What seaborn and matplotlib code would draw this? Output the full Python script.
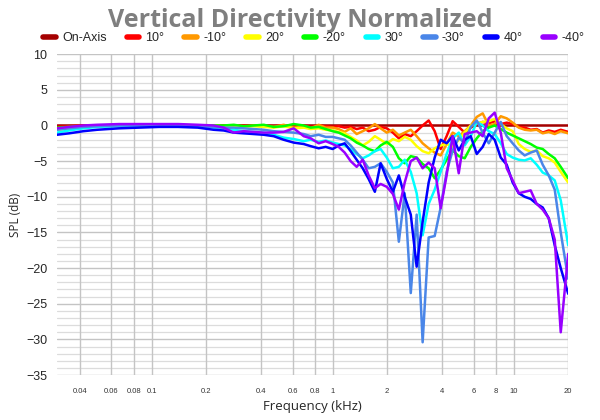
import numpy as np
import pandas as pd
import matplotlib
matplotlib.use("Agg")
import matplotlib.pyplot as plt
from matplotlib.lines import Line2D
from matplotlib.ticker import NullLocator, FixedLocator
import seaborn as sns

# frequency points (kHz)
freq = [0.03, 0.035, 0.042, 0.05, 0.066, 0.085, 0.11, 0.14, 0.18,
        0.22, 0.25, 0.284, 0.322, 0.366, 0.416, 0.472, 0.536, 0.609, 0.692, 0.756, 0.837, 0.915,
        1.0, 1.08, 1.165, 1.257, 1.357, 1.465, 1.58, 1.71, 1.84, 1.99, 2.15, 2.32, 2.5, 2.7,
        2.91, 3.14, 3.39, 3.66, 3.95, 4.26, 4.6, 4.97, 5.36, 5.79, 6.25, 6.74, 7.28, 7.85,
        8.48, 9.15, 9.87, 10.66, 11.5, 12.41, 13.4, 14.46, 15.61, 16.85, 18.19, 20.0]

angles = ["On-Axis", "10°", "-10°", "20°", "-20°", "30°", "-30°", "40°", "-40°"]
colors = ["#A50000", "#FF0000", "#FF9900", "#FFFF00", "#00FF00", "#00FFFF", "#4A86E8", "#0000FF", "#9900FF"]

on_axis = [0.0] * 62

p10 = [-0.2, -0.1, 0, 0, 0, 0, 0, 0, 0,
       0, 0, -0.1, 0, 0, 0, -0.1, 0, -0.1, 0, -0.2, 0, -0.1,
       -0.2, -0.1, -0.3, -0.2, -0.5, -0.3, -0.8, -0.6, -0.2, -0.4, -1.0, -1.8, -1.2, -1.5,
       -0.8, 0.0, 0.7, -0.8, -3.3, -1.5, 0.6, -0.2, -1.0, -0.3, 0.2, 0.5, 0.3, 0.6,
       0.2, 0.4, 0.2, -0.2, -0.3, -0.6, -0.5, -1.0, -0.7, -0.9, -0.6, -0.9]

m10 = [-0.5, -0.3, -0.1, 0, 0, 0, 0.1, 0.1, 0,
       0, -0.1, 0, -0.2, 0, -0.1, -0.2, 0.1, -0.3, -0.2, -0.4, 0.1, -0.3,
       -0.3, -0.5, -0.9, -0.4, -1.2, -0.8, -0.4, 0.2, -0.4, -1.0, -0.6, -1.4, -1.0, -0.6,
       -1.5, -2.5, -3.2, -3.8, -4.2, -2.6, -1.0, -1.5, -0.8, 0.0, 1.2, 1.7, 0.0, 0.2,
       1.3, 1.0, 0.4, -0.3, -0.6, -0.7, -0.6, -1.1, -0.9, -1.2, -0.8, -1.1]

p20 = [-0.6, -0.4, -0.2, -0.1, 0, 0, 0, 0, 0,
       0, -0.1, 0, -0.2, -0.1, -0.2, -0.3, -0.1, -0.4, -0.3, -0.5, -0.4, -0.6,
       -0.7, -0.9, -1.1, -1.6, -2.1, -2.8, -2.3, -1.5, -2.0, -2.6, -1.9, -2.2, -1.6, -2.0,
       -2.9, -3.6, -3.9, -3.2, -2.8, -2.6, -3.0, -2.0, -1.0, 0.0, 0.3, 0.5, 0.6, 0.9,
       0.2, -0.4, -0.8, -2.6, -3.3, -3.7, -3.5, -4.3, -4.6, -5.2, -6.5, -8.0]

m20 = [-0.3, -0.2, -0.1, 0, 0, 0, 0, 0, 0,
       0, 0, 0.1, -0.1, 0, 0.1, -0.2, -0.1, 0.2, 0, -0.3, -0.2, -0.5,
       -0.8, -1.0, -1.4, -1.8, -2.4, -2.8, -3.3, -3.6, -2.8, -2.3, -3.0, -4.6, -5.3, -4.3,
       -4.5, -5.4, -6.0, -7.4, -6.2, -4.8, -3.5, -4.3, -4.6, -3.0, -1.8, -0.8, -0.3, 0.0,
       -0.5, -1.0, -1.4, -1.8, -2.2, -2.6, -3.1, -3.3, -4.0, -4.6, -5.8, -7.4]

p30 = [-1.0, -0.7, -0.4, -0.2, -0.1, 0, 0, 0, 0,
       -0.3, -0.4, -0.6, -0.8, -0.9, -1.0, -1.3, -1.7, -1.9, -2.2, -2.0, -2.3, -2.1,
       -2.4, -2.6, -2.8, -3.3, -4.0, -4.6, -4.2, -3.6, -3.3, -4.5, -6.0, -5.8, -4.8, -6.5,
       -9.5, -15.4, -11.0, -9.0, -6.5, -4.0, -1.8, -1.0, -2.8, -1.5, 0.5, 0.0, -0.8, -1.2,
       -2.5, -4.0, -4.5, -4.8, -4.9, -4.6, -5.5, -6.6, -7.0, -7.7, -10.5, -16.8]

m30 = [-0.6, -0.4, -0.2, -0.1, 0, 0, 0, 0, -0.1,
       -0.2, -0.3, -0.3, -0.4, -0.5, -0.6, -0.8, -0.9, -1.0, -1.2, -1.5, -1.3, -1.6,
       -1.6, -1.8, -2.0, -2.8, -3.8, -4.8, -6.0, -5.8, -5.3, -6.5, -8.0, -16.3, -9.5, -23.5,
       -12.5, -30.4, -15.7, -15.5, -11.5, -6.5, -3.5, -1.7, -2.5, -0.2, 0.7, -1.0, -2.5, -1.0,
       0.5, -1.5, -2.5, -3.5, -4.2, -3.8, -3.5, -5.5, -7.0, -9.0, -15.0, -21.5]

p40 = [-1.3, -1.1, -0.8, -0.6, -0.4, -0.3, -0.2, -0.2, -0.3,
       -0.6, -0.7, -1.0, -1.1, -1.2, -1.3, -1.5, -2.0, -2.4, -2.6, -2.9, -3.2, -3.0,
       -3.3, -2.8, -2.5, -3.6, -4.8, -6.0, -7.5, -9.3, -5.3, -7.5, -9.3, -7.0, -10.0, -12.5,
       -19.8, -13.5, -8.0, -4.5, -2.0, -2.5, -1.5, -3.5, -2.0, -1.5, -4.0, -3.0, -1.2, -2.0,
       -4.5, -5.5, -8.0, -9.5, -10.0, -10.3, -11.0, -11.5, -13.0, -16.8, -20.0, -23.6]

m40 = [-0.4, -0.2, 0, 0.1, 0.2, 0.2, 0.2, 0.2, 0.1,
       0, -0.3, -1.0, -0.8, -0.9, -1.0, -1.0, -0.9, -0.4, -1.5, -1.8, -2.5, -2.2,
       -2.6, -3.0, -3.8, -5.0, -5.8, -4.8, -7.0, -8.8, -8.2, -8.6, -9.6, -11.8, -8.0, -5.0,
       -4.5, -6.0, -5.2, -6.0, -11.6, -7.0, -1.5, -6.7, -1.2, -1.0, -0.8, -1.5, 1.0, 1.8,
       -1.0, -6.0, -7.7, -9.5, -9.3, -9.1, -11.0, -11.8, -13.0, -16.0, -29.0, -18.0]

series = [on_axis, p10, m10, p20, m20, p30, m30, p40, m40]

df = pd.concat([pd.DataFrame({"freq": freq, "spl": s, "angle": a})
                for a, s in zip(angles, series)], ignore_index=True)

sns.set_style("white")
plt.rcParams["font.family"] = ["Liberation Sans", "DejaVu Sans"]

fig = plt.figure(figsize=(6, 4.2), dpi=100)
ax = fig.add_axes([0.095, 0.107, 0.852, 0.764])

# grid drawn first so the curves sit on top
ax.set_xscale("log")
ax.set_xlim(0.03, 20)
ax.set_ylim(-35, 10)
for v in range(-35, 11):
    if v % 5:
        ax.axhline(v, color="#DCDCDC", linewidth=0.9, zorder=0)

sns.lineplot(data=df, x="freq", y="spl", hue="angle", hue_order=angles,
             palette=colors, linewidth=1.8, legend=False, ax=ax, sort=False)

xt = [0.04, 0.06, 0.08, 0.1, 0.2, 0.4, 0.6, 0.8, 1, 2, 4, 6, 8, 10, 20]
ax.xaxis.set_major_locator(FixedLocator(xt))
ax.xaxis.set_minor_locator(NullLocator())
ax.set_xticklabels([str(v) for v in xt], fontsize=5.5, color="#333333")
ax.yaxis.set_major_locator(FixedLocator(list(range(-35, 11, 5))))
ax.yaxis.set_minor_locator(NullLocator())
ax.tick_params(axis="y", labelsize=9, length=5, color="#C4C4C4", pad=2)
ax.tick_params(axis="x", length=4, color="#C4C4C4", pad=5)

ax.grid(True, which="major", color="#C4C4C4", linewidth=1.0)
ax.set_axisbelow(True)
for sp in ax.spines.values():
    sp.set_visible(False)

ax.set_xlabel("Frequency (kHz)", fontsize=9.5, family=["Open Sans", "DejaVu Sans"], labelpad=4)
ax.set_ylabel("SPL (dB)", fontsize=8.5, family=["Open Sans", "DejaVu Sans"], labelpad=3)

fig.suptitle("Vertical Directivity Normalized", fontsize=18, fontweight="bold",
             color="#7F7F7F", family=["Open Sans", "DejaVu Sans"], y=0.982)

handles = [Line2D([0], [0], color=c, lw=4) for c in colors]
fig.legend(handles, angles, loc="center", bbox_to_anchor=(0.523, 0.909), ncol=9,
           frameon=False, fontsize=9, handlelength=1.0, columnspacing=1.6, handletextpad=0.5)

fig.savefig("out.png", dpi=100)
